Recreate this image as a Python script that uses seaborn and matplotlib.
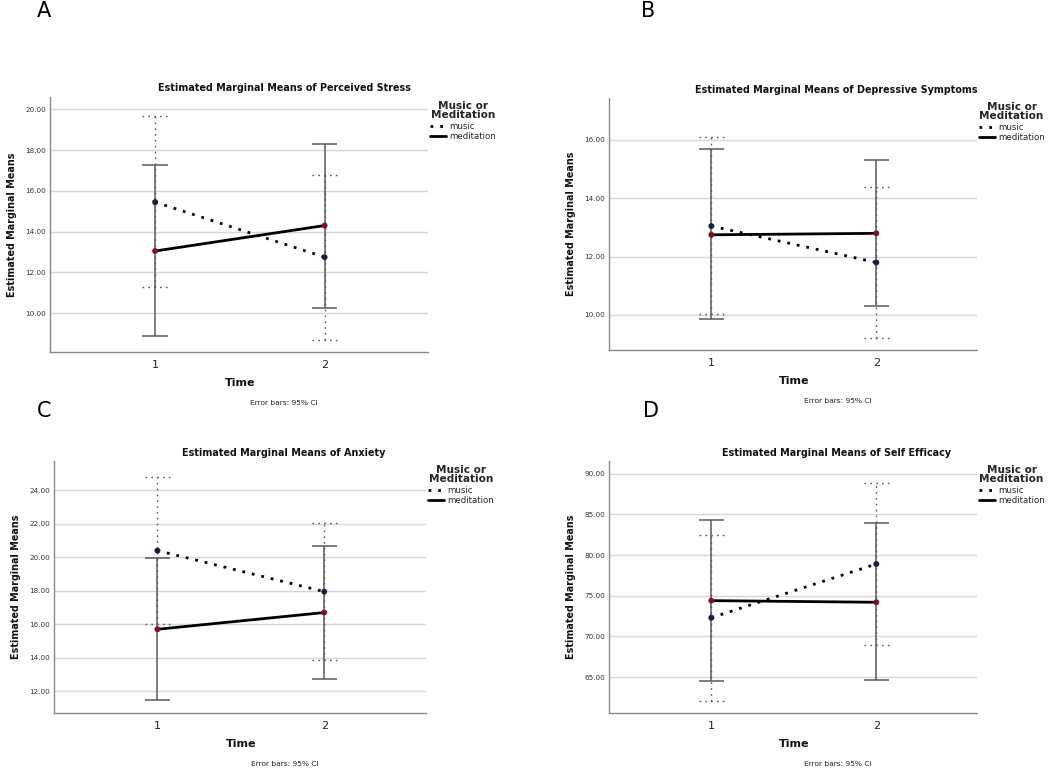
import numpy as np
import pandas as pd
import matplotlib
matplotlib.use("Agg")
import matplotlib.pyplot as plt
import seaborn as sns
from matplotlib.lines import Line2D

# ---------------- data ----------------
time_points = [1, 2]
groups = ["music", "meditation"]

titles = [
    "Estimated Marginal Means of Perceived Stress",
    "Estimated Marginal Means of Depressive Symptoms",
    "Estimated Marginal Means of Anxiety",
    "Estimated Marginal Means of Self Efficacy",
]
panel_letters = ["A", "B", "C", "D"]

stress_music = [15.45, 12.75]
stress_music_lo = [11.30, 8.70]
stress_music_hi = [19.65, 16.80]
stress_medit = [13.05, 14.30]
stress_medit_lo = [8.90, 10.25]
stress_medit_hi = [17.25, 18.30]

depr_music = [13.05, 11.80]
depr_music_lo = [10.05, 9.20]
depr_music_hi = [16.10, 14.40]
depr_medit = [12.75, 12.80]
depr_medit_lo = [9.85, 10.30]
depr_medit_hi = [15.70, 15.30]

anx_music = [20.40, 17.95]
anx_music_lo = [16.00, 13.85]
anx_music_hi = [24.80, 22.05]
anx_medit = [15.70, 16.70]
anx_medit_lo = [11.45, 12.75]
anx_medit_hi = [19.95, 20.65]

eff_music = [72.30, 78.90]
eff_music_lo = [62.10, 69.00]
eff_music_hi = [82.50, 88.80]
eff_medit = [74.40, 74.20]
eff_medit_lo = [64.50, 64.70]
eff_medit_hi = [84.30, 83.90]

y_ticks = [
    [10, 12, 14, 16, 18, 20],
    [10, 12, 14, 16],
    [12, 14, 16, 18, 20, 22, 24],
    [65, 70, 75, 80, 85, 90],
]
y_limits = [(8.1, 20.6), (8.8, 17.44), (10.7, 25.75), (60.6, 91.55)]

series = [
    (stress_music, stress_music_lo, stress_music_hi, stress_medit, stress_medit_lo, stress_medit_hi),
    (depr_music, depr_music_lo, depr_music_hi, depr_medit, depr_medit_lo, depr_medit_hi),
    (anx_music, anx_music_lo, anx_music_hi, anx_medit, anx_medit_lo, anx_medit_hi),
    (eff_music, eff_music_lo, eff_music_hi, eff_medit, eff_medit_lo, eff_medit_hi),
]

# ---------------- style ----------------
sns.set_style("white")
plt.rcParams["font.family"] = ["DejaVu Sans"]

W, H = 1050, 771
fig = plt.figure(figsize=(W / 100, H / 100), dpi=100)


def fx(x):
    return x / W


def fy(y):
    return 1 - y / H


# axes boxes in pixels: left, top, right, bottom
boxes = [
    (50, 97, 428, 352),
    (609, 98, 977, 350),
    (54, 461, 426, 713),
    (609, 461, 977, 713),
]
title_pos = [(284, 88), (836, 90), (284, 453), (836, 453)]
letter_pos = [(44, 11), (648, 11), (44, 411), (651, 411)]

line_dashes = {"music": (1, 2.5), "meditation": ""}
marker_pal = {"music": "#14213d", "meditation": "#7d1222"}
line_pal = {"music": "black", "meditation": "black"}
eb_color = "#5a5a5a"
cap_half = 0.075

for i, (l, t, r, b) in enumerate(boxes):
    ax = fig.add_axes([fx(l), fy(b), fx(r - l), (b - t) / H])
    m, mlo, mhi, d, dlo, dhi = series[i]
    df = pd.DataFrame({
        "time": time_points * 2,
        "group": ["music"] * 2 + ["meditation"] * 2,
        "mean": list(m) + list(d),
        "lo": list(mlo) + list(dlo),
        "hi": list(mhi) + list(dhi),
    })

    ax.set_ylim(*y_limits[i])
    ax.set_xlim(0.38, 2.61)
    ax.set_yticks(y_ticks[i])
    ax.set_yticklabels([f"{v:.2f}" for v in y_ticks[i]], fontsize=5.2, color="#333333")
    ax.set_xticks(time_points)
    ax.set_xticklabels([str(v) for v in time_points], fontsize=8, color="#222222")
    ax.tick_params(axis="both", length=0)
    ax.tick_params(axis="x", pad=6)
    ax.tick_params(axis="y", pad=3)
    ax.yaxis.grid(True, color="#d6d6d6", lw=1.0)
    ax.xaxis.grid(False)
    ax.set_axisbelow(True)
    for s in ["top", "right"]:
        ax.spines[s].set_visible(False)
    for s in ["left", "bottom"]:
        ax.spines[s].set_color("#8a8a8a")
        ax.spines[s].set_linewidth(1.0)

    # error bars (95% CI)
    for _, row in df.iterrows():
        if row["group"] == "music":
            ls = (0, (1.2, 3.0))
            lw = 1.0
        else:
            ls = "-"
            lw = 1.1
        ax.vlines(row["time"], row["lo"], row["hi"], colors=eb_color, linestyles=[ls], lw=lw, zorder=2)
        ax.hlines([row["lo"], row["hi"]], row["time"] - cap_half, row["time"] + cap_half,
                  colors=eb_color, linestyles=[ls], lw=lw, zorder=2)

    sns.lineplot(data=df, x="time", y="mean", hue="group", style="group",
                 palette=line_pal, dashes=line_dashes, lw=2.0, ax=ax,
                 legend=False, zorder=3)
    sns.scatterplot(data=df, x="time", y="mean", hue="group", palette=marker_pal,
                    s=18, edgecolor=None, linewidth=0, ax=ax, legend=False, zorder=4)

    ax.set_xlabel("")
    ax.set_ylabel("")

    # legend
    handles = [Line2D([0], [0], color="black", lw=2.0, dashes=(1, 2.5)),
               Line2D([0], [0], color="black", lw=2.0)]
    leg = ax.legend(handles, groups, title="Music or\nMeditation", loc="upper left",
                    bbox_to_anchor=(1.005, 0.985), frameon=False, fontsize=6.2,
                    handlelength=1.9, handletextpad=0.3, labelspacing=0.15,
                    borderpad=0, borderaxespad=0,
                    title_fontproperties={"weight": "bold", "size": 7.6},
                    alignment="center")
    leg.get_title().set_multialignment("center")
    leg.get_title().set_linespacing(0.95)

    # texts
    cx = (l + r) / 2
    tx, ty = title_pos[i]
    fig.text(fx(tx), fy(ty), titles[i], fontsize=6.95, fontweight="bold",
             ha="center", va="center", color="#111111")
    fig.text(fx(l - 38), fy((t + b) / 2), "Estimated Marginal Means", rotation=90,
             fontsize=6.9, fontweight="bold", ha="center", va="center", color="#111111")
    fig.text(fx(cx + 1), fy(b + 31), "Time", fontsize=8, fontweight="bold",
             ha="center", va="center", color="#111111")
    fig.text(fx(cx + 45), fy(b + 51), "Error bars: 95% CI", fontsize=5.4,
             ha="center", va="center", color="#222222")
    lx, ly = letter_pos[i]
    fig.text(fx(lx), fy(ly), panel_letters[i], fontsize=15, ha="center", va="center",
             color="black")

fig.savefig("out.png", dpi=100)
